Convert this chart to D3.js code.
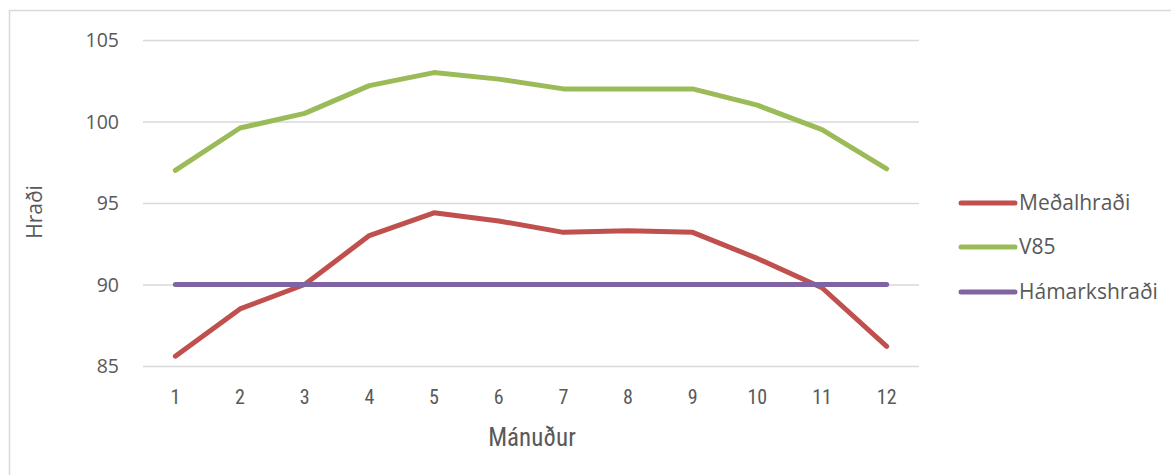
<!DOCTYPE html>
<html lang="is">
	<head>
		<meta charset="utf-8">
		<title>Hraði eftir mánuðum</title>
		<script src="https://d3js.org/d3.v7.min.js"></script>
		<style type="text/css">
		body { margin: 0; background: #fff; }
		text { fill: #595959; }
		.ytick { font-family: "Open Sans", sans-serif; font-size: 19.5px; }
		.xtick { font-family: "Liberation Sans Narrow", "Roboto Condensed", "Liberation Sans", sans-serif; font-size: 20px; }
		.xlab { font-family: "Liberation Sans Narrow", "Roboto Condensed", "Liberation Sans", sans-serif; font-size: 25px; }
		.lab { font-family: "Open Sans", sans-serif; font-size: 21px; }
		</style>
	</head>
	<body>
		<div id="chart"></div>
		<script type="text/javascript">
		// data
		var months = [1, 2, 3, 4, 5, 6, 7, 8, 9, 10, 11, 12];
		var medalhradi = [85.6, 88.5, 90.0, 93.0, 94.4, 93.9, 93.2, 93.3, 93.2, 91.6, 89.8, 86.2];
		var v85 = [97.0, 99.6, 100.5, 102.2, 103.0, 102.6, 102.0, 102.0, 102.0, 101.0, 99.5, 97.1];
		var hamarkshradi = [90, 90, 90, 90, 90, 90, 90, 90, 90, 90, 90, 90];
		var yTicks = [85, 90, 95, 100, 105];
		var seriesNames = ["Meðalhraði", "V85", "Hámarkshraði"];
		var seriesColors = ["#C0504D", "#9BBB59", "#8064A2"];

		var w = 1171;
		var h = 475;

		var svg = d3.select("#chart")
			.append("svg")
			.attr("width", w)
			.attr("height", h);

		// chart frame
		svg.append("path")
			.attr("d", "M9.5," + h + "V10.5H" + w)
			.attr("fill", "none")
			.attr("stroke", "#d9d9d9")
			.attr("stroke-width", 1.5);

		var xScale = d3.scaleBand()
			.domain(months)
			.range([143, 919]);

		var yScale = d3.scaleLinear()
			.domain([85, 105])
			.range([366, 40]);

		// gridlines
		svg.append("g")
			.selectAll("line")
			.data(yTicks)
			.enter()
			.append("line")
			.attr("x1", xScale.range()[0])
			.attr("x2", xScale.range()[1])
			.attr("y1", d => yScale(d) + 0.5)
			.attr("y2", d => yScale(d) + 0.5)
			.attr("stroke", "#d9d9d9")
			.attr("stroke-width", 1.5);

		// y axis labels
		var yAxis = d3.axisLeft(yScale).tickValues(yTicks).tickSize(0).tickPadding(0);
		var yg = svg.append("g")
			.attr("transform", "translate(119,0)")
			.call(yAxis);
		yg.select(".domain").remove();
		yg.selectAll("text").attr("class", "ytick").attr("fill", "#595959").attr("dy", "0.35em");
		yg.attr("font-size", null).attr("font-family", null);

		// x axis labels
		var xAxis = d3.axisBottom(xScale).tickSize(0).tickPadding(0);
		var xg = svg.append("g")
			.attr("transform", "translate(0,397)")
			.call(xAxis);
		xg.select(".domain").remove();
		xg.selectAll("text").attr("class", "xtick").attr("fill", "#595959").attr("dy", "0.35em");
		xg.attr("font-size", null).attr("font-family", null);

		// axis titles
		svg.append("text")
			.attr("class", "xlab")
			.attr("x", 532)
			.attr("y", 446)
			.attr("text-anchor", "middle")
			.text("Mánuður");

		svg.append("text")
			.attr("class", "lab")
			.attr("transform", "translate(42,212) rotate(-90)")
			.attr("text-anchor", "middle")
			.text("Hraði");

		// lines
		var line = d3.line()
			.x((d, i) => xScale(months[i]) + xScale.bandwidth() / 2)
			.y(d => yScale(d));

		var allSeries = [medalhradi, v85, hamarkshradi];
		svg.append("g")
			.selectAll("path")
			.data(allSeries)
			.enter()
			.append("path")
			.attr("d", d => line(d))
			.attr("fill", "none")
			.attr("stroke", (d, i) => seriesColors[i])
			.attr("stroke-width", 5)
			.attr("stroke-linecap", "round")
			.attr("stroke-linejoin", "round");

		// legend
		var legendY = [203, 247, 292];
		var legend = svg.append("g")
			.selectAll("g")
			.data(seriesNames)
			.enter()
			.append("g")
			.attr("transform", (d, i) => "translate(0," + legendY[i] + ")");

		legend.append("line")
			.attr("x1", 961)
			.attr("x2", 1015)
			.attr("stroke", (d, i) => seriesColors[i])
			.attr("stroke-width", 5)
			.attr("stroke-linecap", "round");

		legend.append("text")
			.attr("class", "lab")
			.attr("x", 1019)
			.attr("dy", "0.35em")
			.text(d => d);
		</script>
	</body>
</html>
